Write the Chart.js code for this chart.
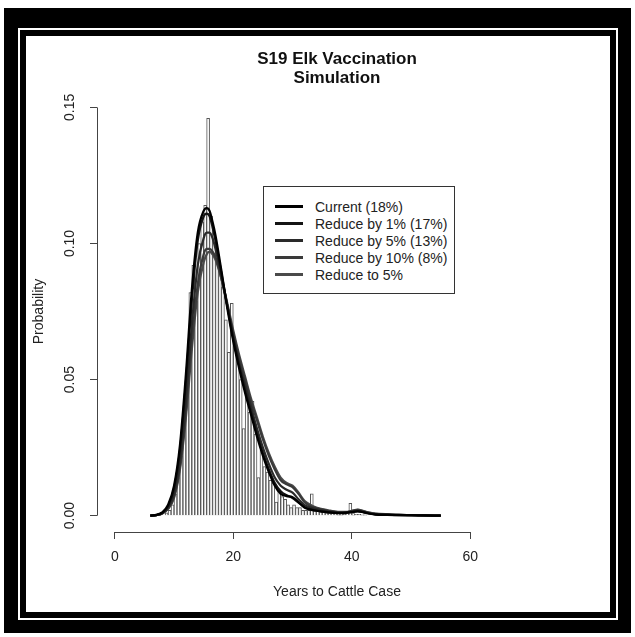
<!DOCTYPE html>
<html>
<head>
<meta charset="utf-8">
<script src="https://cdn.jsdelivr.net/npm/chart.js@4/dist/chart.umd.min.js"></script>
<style>
  body { margin: 0; background: #fff; }
  #wrap { position: relative; width: 635px; height: 637px; overflow: hidden; }
  .box { position: absolute; }
  #outer { left: 4px; top: 8px; width: 627px; height: 625px; background: #000; }
  #gap { left: 18px; top: 28px; width: 600px; height: 592px; background: #fff; }
  #inner { left: 20px; top: 30px; width: 596px; height: 588px; background: #000; }
  #face { left: 26px; top: 36px; width: 584px; height: 576px; background: #fff; }
  canvas { position: absolute; left: 0; top: 0; }
  #legend {
    position: absolute; left: 263px; top: 186px; width: 192px; height: 108px;
    border: 1px solid #333; background: #fff; box-sizing: border-box;
    font: 14px "Liberation Sans", Arial, sans-serif; color: #222;
    padding-top: 11px;
  }
  #legend .row { display: flex; align-items: center; height: 17px; }
  #legend .line { width: 28px; height: 3px; margin: 0 12px 0 11px; }
</style>
</head>
<body>
<div id="wrap">
  <div class="box" id="outer"></div>
  <div class="box" id="gap"></div>
  <div class="box" id="inner"></div>
  <div class="box" id="face"></div>
  <canvas id="chart" width="635" height="637"></canvas>
  <div id="legend"></div>
</div>
<script>
// Histogram (bin centres, 0.5 year bins) and its densities
const histYears = [8.75, 9.25, 9.75, 10.25, 10.75, 11.25, 11.75, 12.25, 12.75, 13.25, 13.75, 14.25, 14.75, 15.25, 15.75, 16.25, 16.75, 17.25, 17.75, 18.25, 18.75, 19.25, 19.75, 20.25, 20.75, 21.25, 21.75, 22.25, 22.75, 23.25, 23.75, 24.25, 24.75, 25.25, 25.75, 26.25, 26.75, 27.25, 27.75, 28.25, 28.75, 29.25, 29.75, 30.25, 30.75, 31.25, 31.75, 32.25, 32.75, 33.25, 33.75, 34.25, 34.75, 35.25, 35.75, 36.25, 36.75, 37.25, 37.75, 38.25, 38.75, 39.25, 39.75, 40.25, 40.75, 41.25, 41.75, 42.25];
const histProb = [0.001, 0.002, 0.004, 0.008, 0.014, 0.022, 0.033, 0.048, 0.082, 0.092, 0.079, 0.100, 0.108, 0.114, 0.146, 0.110, 0.104, 0.098, 0.090, 0.084, 0.072, 0.060, 0.078, 0.064, 0.058, 0.050, 0.032, 0.046, 0.038, 0.042, 0.030, 0.014, 0.024, 0.018, 0.016, 0.013, 0.012, 0.005, 0.009, 0.007, 0.006, 0.004, 0.003, 0.004, 0.003, 0.003, 0.002, 0.002, 0.002, 0.008, 0.002, 0.003, 0.002, 0.002, 0.001, 0.001, 0.001, 0.001, 0.0008, 0.0008, 0.0005, 0.001, 0.0045, 0.0008, 0.0005, 0.0005, 0.0003, 0.0003];

// Density curves
const curveYears = [6, 7, 8, 9, 10, 11, 12, 13, 14, 15, 15.5, 16, 16.5, 17, 18, 19, 20, 21, 22, 23, 24, 25, 26, 27, 28, 29, 30, 31, 32, 33, 34, 35, 36, 37, 38, 39, 40, 41, 42, 43, 44, 46, 48, 50, 52, 55];
const current = [0, 0.0003, 0.0012, 0.004, 0.011, 0.026, 0.052, 0.083, 0.104, 0.112, 0.113, 0.112, 0.108, 0.103, 0.090, 0.076, 0.064, 0.054, 0.045, 0.037, 0.029, 0.022, 0.016, 0.011, 0.008, 0.0072, 0.0068, 0.005, 0.003, 0.0022, 0.0018, 0.0015, 0.0012, 0.001, 0.0009, 0.001, 0.0013, 0.0016, 0.0012, 0.0007, 0.0004, 0.0003, 0.0002, 0.0002, 0.0001, 0];
const reduce1 = [0, 0.0002, 0.001, 0.0035, 0.010, 0.024, 0.049, 0.079, 0.101, 0.110, 0.111, 0.110, 0.106, 0.101, 0.089, 0.077, 0.065, 0.055, 0.046, 0.038, 0.030, 0.023, 0.017, 0.012, 0.009, 0.0075, 0.0065, 0.0048, 0.0032, 0.0024, 0.0019, 0.0016, 0.0013, 0.0011, 0.001, 0.0011, 0.0014, 0.0017, 0.0013, 0.0008, 0.0005, 0.0003, 0.0002, 0.0002, 0.0001, 0];
const reduce5 = [0, 0.0002, 0.0009, 0.003, 0.008, 0.020, 0.042, 0.070, 0.092, 0.102, 0.104, 0.104, 0.102, 0.098, 0.088, 0.077, 0.066, 0.056, 0.048, 0.040, 0.032, 0.025, 0.019, 0.014, 0.011, 0.0095, 0.0085, 0.006, 0.004, 0.003, 0.0024, 0.002, 0.0016, 0.0013, 0.0011, 0.0012, 0.0016, 0.0019, 0.0014, 0.0009, 0.0006, 0.0004, 0.0003, 0.0002, 0.0001, 0];
const reduce10 = [0, 0.0002, 0.0008, 0.0027, 0.007, 0.018, 0.038, 0.064, 0.085, 0.096, 0.098, 0.098, 0.097, 0.095, 0.087, 0.077, 0.067, 0.058, 0.050, 0.042, 0.035, 0.028, 0.022, 0.017, 0.013, 0.0115, 0.0105, 0.008, 0.005, 0.0035, 0.0028, 0.0022, 0.0018, 0.0015, 0.0013, 0.0013, 0.0017, 0.0021, 0.0016, 0.001, 0.0007, 0.0005, 0.0003, 0.0002, 0.0001, 0];
const reduceTo5 = [0, 0.0002, 0.0008, 0.0025, 0.0065, 0.017, 0.036, 0.061, 0.082, 0.093, 0.096, 0.097, 0.096, 0.094, 0.087, 0.078, 0.068, 0.059, 0.051, 0.043, 0.036, 0.029, 0.023, 0.018, 0.014, 0.012, 0.011, 0.0085, 0.0055, 0.004, 0.003, 0.0024, 0.002, 0.0016, 0.0014, 0.0014, 0.0018, 0.0022, 0.0017, 0.0011, 0.0008, 0.0005, 0.0003, 0.0002, 0.0001, 0];

const seriesNames = ["Current (18%)", "Reduce by 1% (17%)", "Reduce by 5% (13%)", "Reduce by 10% (8%)", "Reduce to 5%"];
const seriesColors = ["#000000", "#141414", "#2a2a2a", "#3a3a3a", "#4a4a4a"];
const xTicks = [0, 20, 40, 60];
const yTicks = [0, 0.05, 0.10, 0.15];

const FONT = "'Liberation Sans', Arial, sans-serif";

const toPoints = (xs, ys) => xs.map((x, i) => ({ x: x, y: ys[i] }));

const lineSets = [current, reduce1, reduce5, reduce10, reduceTo5].map((ys, i) => ({
    type: "line",
    label: seriesNames[i],
    data: toPoints(curveYears, ys),
    borderColor: seriesColors[i],
    borderWidth: 2.2,
    pointRadius: 0,
    fill: false,
    cubicInterpolationMode: "monotone",
    order: i
}));

// R style axis lines that only span the tick range
const axisLines = {
    id: "axisLines",
    afterDraw(chart) {
        const { ctx, chartArea, scales } = chart;
        ctx.save();
        ctx.strokeStyle = "#444";
        ctx.lineWidth = 1;
        ctx.beginPath();
        const y0 = scales.y.getPixelForValue(yTicks[0]);
        const y1 = scales.y.getPixelForValue(yTicks[yTicks.length - 1]);
        ctx.moveTo(chartArea.left + 0.5, y0);
        ctx.lineTo(chartArea.left + 0.5, y1);
        const x0 = scales.x.getPixelForValue(xTicks[0]);
        const x1 = scales.x.getPixelForValue(xTicks[xTicks.length - 1]);
        ctx.moveTo(x0, chartArea.bottom + 0.5);
        ctx.lineTo(x1, chartArea.bottom + 0.5);
        ctx.stroke();
        ctx.restore();
    }
};

const chart = new Chart(document.getElementById("chart"), {
    data: {
        datasets: [
            ...lineSets,
            {
                type: "bar",
                label: "Histogram",
                data: toPoints(histYears, histProb),
                backgroundColor: "#ffffff",
                borderColor: "#555",
                borderWidth: { top: 1, left: 1, right: 1, bottom: 0 },
                barPercentage: 1,
                categoryPercentage: 1,
                order: 10
            }
        ]
    },
    options: {
        responsive: false,
        animation: false,
        layout: { padding: { left: 0, right: 58, top: 0, bottom: 0 } },
        plugins: {
            legend: { display: false },
            tooltip: { enabled: false },
            title: {
                display: true,
                text: ["S19 Elk Vaccination", "Simulation"],
                fullSize: false,
                color: "#111",
                font: { family: FONT, size: 17, weight: "bold", lineHeight: 1.12 },
                padding: { top: 50, bottom: 3 }
            }
        },
        scales: {
            x: {
                type: "linear",
                min: -3,
                max: 78,
                offset: false,
                afterBuildTicks: (s) => { s.ticks = xTicks.map(v => ({ value: v })); },
                afterFit: (s) => { s.height = 105; },
                border: { display: false },
                grid: { offset: false, drawOnChartArea: false, drawTicks: true, tickLength: 7, color: "#444" },
                ticks: { color: "#222", font: { family: FONT, size: 14 }, padding: 10, maxRotation: 0 },
                title: {
                    display: true, text: "Years to Cattle Case", color: "#222",
                    font: { family: FONT, size: 14 }, padding: { top: 0, bottom: 36 }
                }
            },
            y: {
                type: "linear",
                min: -0.006,
                max: 0.156,
                afterBuildTicks: (s) => { s.ticks = yTicks.map(v => ({ value: v })); },
                afterFit: (s) => { s.width = 97; },
                border: { display: false },
                grid: { offset: false, drawOnChartArea: false, drawTicks: true, tickLength: 7, color: "#444" },
                ticks: {
                    color: "#222", font: { family: FONT, size: 14 }, padding: 6,
                    minRotation: 90, maxRotation: 90, crossAlign: "center",
                    callback: (v) => v.toFixed(2)
                },
                title: {
                    display: true, text: "Probability", color: "#222",
                    font: { family: FONT, size: 14 }, padding: { top: 31, bottom: 0 }
                }
            }
        }
    },
    plugins: [axisLines]
});

// legend box built from the line datasets
const legend = document.getElementById("legend");
lineSets.forEach((ds) => {
    const row = document.createElement("div");
    row.className = "row";
    const line = document.createElement("span");
    line.className = "line";
    line.style.background = ds.borderColor;
    const label = document.createElement("span");
    label.textContent = ds.label;
    row.appendChild(line);
    row.appendChild(label);
    legend.appendChild(row);
});
</script>
</body>
</html>
